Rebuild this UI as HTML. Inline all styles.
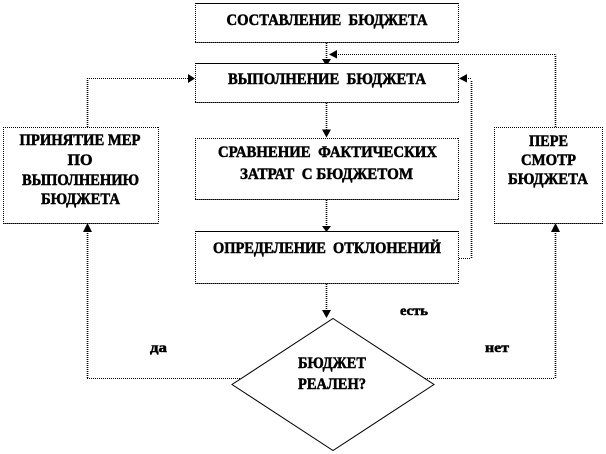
<!DOCTYPE html>
<html><head><meta charset="utf-8">
<style>
html,body{margin:0;padding:0;background:#fff}
svg{display:block}
text{font-family:"Liberation Serif","Noto Serif CJK SC",serif;font-weight:bold;font-size:15.500px;fill:#000;stroke:#000;stroke-width:.5px;text-anchor:middle;white-space:pre}
.sm{font-size:13.500px}
.b{fill:#fff;stroke:none}
.t{stroke:#000;stroke-width:1;fill:none}
.d{stroke:#000;stroke-width:1;stroke-dasharray:1 1;fill:none}
.g{stroke:#555;stroke-width:1;fill:none}
.w{stroke:#000;stroke-width:1.600;stroke-dasharray:1 1;fill:none}
</style></head>
<body>
<svg width="606" height="454" viewBox="0 0 606 454" xmlns="http://www.w3.org/2000/svg">
<!-- connectors -->
<g class="w">
<path d="M326.500 43V60"/><path d="M326.500 103V130"/><path d="M326.500 200V226"/><path d="M326.500 284V310"/>
<path d="M87.500 127V78.500"/>
<path d="M555.500 127V54.500"/>
<path d="M471.500 258V80"/>
<path d="M87.500 378V230"/>
<path d="M555.500 378V230"/>
</g>
<g class="d">
<path d="M87 78.500H190"/>
<path d="M555 54.500H335"/>
<path d="M459 258.500H471"/>
<path d="M471 78.500H465"/>
<path d="M87 378.500H240"/>
<path d="M425 378.500H555"/>
</g>
<!-- arrowheads -->
<g fill="#000" stroke="none">
<path d="M322 59h9l-4.500 7z"/>
<path d="M322 129.500h9l-4.500 8z"/>
<path d="M322 226h9l-4.500 6z"/>
<path d="M322 310h9l-4.500 8z"/>
<path d="M188 74l7 4.500-7 4.500z"/>
<path d="M337 50v8.500l-8-4z"/>
<path d="M467 74v8.500l-8-4z"/>
<path d="M83 232l4.500-9 4.500 9z"/>
<path d="M551 232l4.500-9 4.500 9z"/>
</g>
<!-- boxes -->
<g>
<rect class="b" x="195" y="3" width="264" height="39"/>
<path class="t" d="M195 3.500H459"/><path class="g" d="M195 42.500H459"/><path class="d" d="M195.500 3V42M458.500 3V42M195 42.500H459"/>
<rect class="b" x="195" y="63" width="264" height="39"/>
<path class="t" d="M195 63.500H459"/><path class="g" d="M195 102.500H459"/><path class="d" d="M195.500 63V102M458.500 63V102M195 102.500H459"/>
<rect class="b" x="195" y="138" width="264" height="61"/>
<path class="g" d="M195 199.500H459"/><path class="d" d="M195 138.500H459M195.500 138V199M458.500 138V199M195 199.500H459"/>
<rect class="b" x="195" y="231" width="264" height="52"/>
<path class="t" d="M195 231.500H459"/><path class="g" d="M195 283.500H459"/><path class="d" d="M195.500 231V283M458.500 231V283M195 283.500H459"/>
<rect class="b" x="3" y="127" width="156" height="96"/>
<path class="g" d="M3 223.500H159"/><path class="d" d="M3 127.500H159M3.500 127V223M158.500 127V223M3 223.500H159"/>
<rect class="b" x="494" y="127" width="109" height="96"/>
<path class="g" d="M494 223.500H603"/><path class="d" d="M494 127.500H603M494.500 127V223M602.500 127V223M494 223.500H603"/>
</g>
<path d="M333 318.500L434 384.500L333 450.500L232 384.500Z" fill="#fff" stroke="#000" stroke-width="1"/>
<!-- labels -->
<text x="327" y="25" textLength="201" lengthAdjust="spacingAndGlyphs">СОСТАВЛЕНИЕ  БЮДЖЕТА</text>
<text x="327" y="84" textLength="198" lengthAdjust="spacingAndGlyphs">ВЫПОЛНЕНИЕ  БЮДЖЕТА</text>
<text x="327.500" y="157" textLength="219" lengthAdjust="spacingAndGlyphs">СРАВНЕНИЕ  ФАКТИЧЕСКИХ</text>
<text x="326.500" y="179" textLength="173" lengthAdjust="spacingAndGlyphs">ЗАТРАТ  С БЮДЖЕТОМ</text>
<text x="327" y="253" textLength="228" lengthAdjust="spacingAndGlyphs">ОПРЕДЕЛЕНИЕ  ОТКЛОНЕНИЙ</text>
<text x="80" y="145" textLength="121" lengthAdjust="spacingAndGlyphs">ПРИНЯТИЕ МЕР</text>
<text x="80" y="165" textLength="25" lengthAdjust="spacingAndGlyphs">ПО</text>
<text x="80.500" y="185" textLength="117" lengthAdjust="spacingAndGlyphs">ВЫПОЛНЕНИЮ</text>
<text x="80.500" y="204" textLength="79" lengthAdjust="spacingAndGlyphs">БЮДЖЕТА</text>
<text x="548.500" y="146" textLength="39" lengthAdjust="spacingAndGlyphs">ПЕРЕ</text>
<text x="548.500" y="165" textLength="55" lengthAdjust="spacingAndGlyphs">СМОТР</text>
<text x="548" y="184" textLength="80" lengthAdjust="spacingAndGlyphs">БЮДЖЕТА</text>
<text x="332" y="368" textLength="68" lengthAdjust="spacingAndGlyphs">БЮДЖЕТ</text>
<text x="332" y="389" textLength="68" lengthAdjust="spacingAndGlyphs">РЕАЛЕН?</text>
<text class="sm" x="414" y="315" textLength="28" lengthAdjust="spacingAndGlyphs">есть</text>
<text class="sm" x="158.500" y="352" textLength="17" lengthAdjust="spacingAndGlyphs">да</text>
<text class="sm" x="497" y="352" textLength="24" lengthAdjust="spacingAndGlyphs">нет</text>
</svg>
</body></html>
